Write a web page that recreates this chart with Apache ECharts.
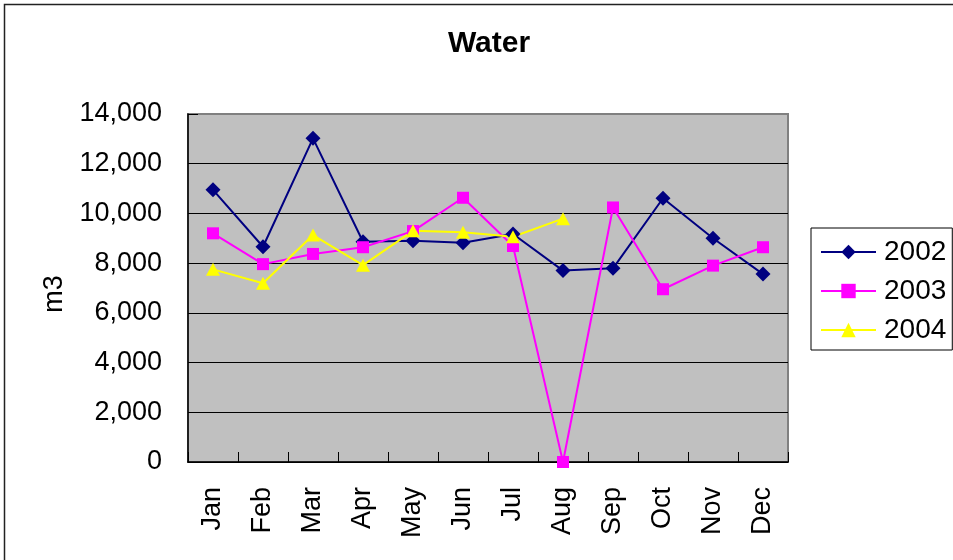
<!DOCTYPE html>
<html>
<head>
<meta charset="utf-8">
<script src="https://cdn.jsdelivr.net/npm/echarts@6/dist/echarts.min.js"></script>
<style>
  html, body { margin: 0; padding: 0; background: #fff; }
  #chart { width: 953px; height: 560px; }
</style>
</head>
<body>
<div id="chart"></div>
<script>
// data
const months = ['Jan', 'Feb', 'Mar', 'Apr', 'May', 'Jun', 'Jul', 'Aug', 'Sep', 'Oct', 'Nov', 'Dec'];
const water2002 = [10950, 8660, 13020, 8860, 8900, 8820, 9170, 7700, 7790, 10610, 9000, 7560];
const water2003 = [9200, 7960, 8370, 8640, 9290, 10630, 8690, 0, 10240, 6950, 7900, 8640];
const water2004 = [7750, 7190, 9130, 7920, 9300, 9240, 9060, 9790];

const font = 'Liberation Sans, Arial, sans-serif';

const chart = echarts.init(document.getElementById('chart'));

function lineSeries(name, data, color, symbol, size) {
  return {
    name: name,
    type: 'line',
    data: data,
    symbol: symbol,
    symbolSize: size,
    showAllSymbol: true,
    lineStyle: { color: color, width: 2 },
    itemStyle: { color: color },
    emphasis: { disabled: true },
    animation: false
  };
}

chart.setOption({
  backgroundColor: '#fff',
  title: {
    text: 'Water',
    left: 484,
    top: 24,
    textAlign: 'center',
    textStyle: { fontFamily: font, fontSize: 30, fontWeight: 'bold', color: '#000' }
  },
  graphic: [{
    type: 'rect',
    shape: { x: 4.5, y: 4.5, width: 980, height: 600 },
    style: { fill: 'none', stroke: '#222', lineWidth: 1.5 },
    silent: true
  }],
  legend: {
    orient: 'vertical',
    left: 811,
    top: 228,
    padding: [10, 6, 6, 9],
    itemWidth: 55,
    itemHeight: 18,
    itemGap: 11,
    borderColor: '#000',
    borderWidth: 1,
    textStyle: { fontFamily: font, fontSize: 28, color: '#000', lineHeight: 28, padding: [0, 0, 0, 3] },
    data: ['2002', '2003', '2004']
  },
  grid: {
    left: 188,
    top: 114,
    width: 600,
    height: 348,
    show: true,
    backgroundColor: '#C0C0C0',
    borderColor: '#808080',
    borderWidth: 2
  },
  xAxis: {
    type: 'category',
    data: months,
    boundaryGap: true,
    axisLine: { lineStyle: { color: '#000', width: 1.5 } },
    axisTick: { show: true, inside: true, length: 10, lineStyle: { color: '#000' } },
    axisLabel: { rotate: 90, margin: 25, fontFamily: font, fontSize: 27, color: '#000' },
    splitLine: { show: false }
  },
  yAxis: {
    type: 'value',
    min: 0,
    max: 14000,
    interval: 2000,
    name: 'm3',
    nameLocation: 'middle',
    nameRotate: 90,
    nameGap: 120,
    nameTextStyle: { fontFamily: font, fontSize: 27, color: '#000', padding: [0, 12, 0, 0] },
    axisLine: { show: true, lineStyle: { color: '#000', width: 1.5 } },
    axisTick: { show: true, inside: true, length: 10, lineStyle: { color: '#000' } },
    axisLabel: {
      margin: 26,
      fontFamily: font,
      fontSize: 27,
      color: '#000',
      padding: [6, 0, 0, 0],
      formatter: v => v.toLocaleString('en-US')
    },
    splitLine: {
      lineStyle: { color: ['#000', '#000', '#000', '#000', '#000', '#000', '#000', '#808080'], width: 1 }
    }
  },
  series: [
    lineSeries('2002', water2002, '#000080', 'diamond', 15),
    lineSeries('2003', water2003, '#FF00FF', 'rect', 12),
    lineSeries('2004', water2004, '#FFFF00', 'triangle', [14, 13])
  ]
});
</script>
</body>
</html>
